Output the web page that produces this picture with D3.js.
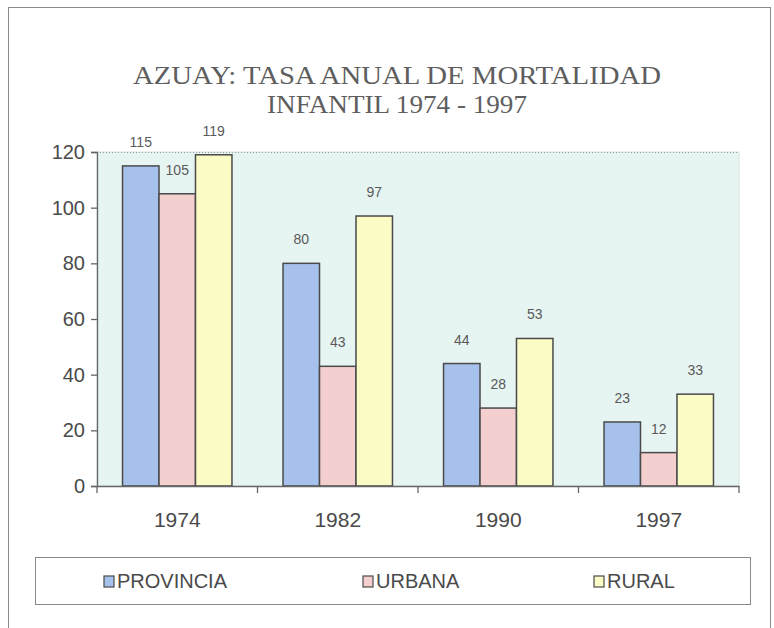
<!DOCTYPE html>
<html>
<head>
<meta charset="utf-8">
<script src="https://cdn.jsdelivr.net/npm/d3@7"></script>
<style>
  html, body { margin: 0; padding: 0; background: #fff; }
  svg { display: block; }
</style>
</head>
<body>
<svg id="chart" width="774" height="628"></svg>
<script>
/* global d3 */

// data
const years = ['1974', '1982', '1990', '1997'];
const seriesNames = ['PROVINCIA', 'URBANA', 'RURAL'];
const provincia = [115, 80, 44, 23];
const urbana = [105, 43, 28, 12];
const rural = [119, 97, 53, 33];
const yTicks = [0, 20, 40, 60, 80, 100, 120];
const titleLines = ['AZUAY: TASA ANUAL DE MORTALIDAD', 'INFANTIL 1974 - 1997'];

const fills = ['#a6c1ec', '#f3cfd0', '#fbfbc6'];
const values = [provincia, urbana, rural];

const svg = d3.select('#chart');

// outer chart frame
svg.append('rect')
    .attr('x', 8.5).attr('y', 7.5)
    .attr('width', 762).attr('height', 640)
    .attr('fill', '#fff')
    .attr('stroke', '#8a8a8a')
    .attr('stroke-width', 1);

// title
const titleY = [84, 113];
const titleW = [528, 260];
svg.selectAll('.title')
    .data(titleLines)
    .enter().append('text')
    .attr('class', 'title')
    .attr('x', (d, i) => 397 - titleW[i] / 2)
    .attr('y', (d, i) => titleY[i])
    .attr('textLength', (d, i) => titleW[i])
    .attr('lengthAdjust', 'spacingAndGlyphs')
    .style('font-family', '"Liberation Serif", "DejaVu Serif", serif')
    .style('font-size', '26px')
    .style('fill', '#5e5e5e')
    .text(d => d);

const plotL = 97, plotR = 739, plotT = 152, plotB = 486;

const x0 = d3.scaleBand().domain(years).range([plotL, plotR]).padding(0);
const x1 = d3.scaleBand().domain(seriesNames).range([0, x0.bandwidth()])
    .paddingInner(0).paddingOuter(0.7);
const y = d3.scaleLinear().domain([0, 120]).range([plotB, plotT]);

// plot area
svg.append('rect')
    .attr('x', plotL).attr('y', plotT)
    .attr('width', plotR - plotL).attr('height', plotB - plotT)
    .attr('fill', '#e6f4f2')
    .attr('stroke', '#d6e4e2')
    .attr('stroke-width', 1);

svg.append('line')
    .attr('x1', plotL).attr('x2', plotR)
    .attr('y1', y(120) + 0.5).attr('y2', y(120) + 0.5)
    .attr('stroke', '#9a9a9a')
    .attr('stroke-dasharray', '1,2');

// bars
const groups = svg.selectAll('.year')
    .data(years)
    .enter().append('g')
    .attr('class', 'year')
    .attr('transform', d => 'translate(' + x0(d) + ',0)');

groups.selectAll('rect')
    .data((d, i) => seriesNames.map((s, k) => ({ s: s, k: k, v: values[k][i] })))
    .enter().append('rect')
    .attr('x', d => x1(d.s))
    .attr('y', d => y(d.v))
    .attr('width', x1.bandwidth())
    .attr('height', d => y(0) - y(d.v))
    .attr('fill', d => fills[d.k])
    .attr('stroke', '#4a4a4a')
    .attr('stroke-width', 1.5);

groups.selectAll('.lbl')
    .data((d, i) => seriesNames.map((s, k) => ({ s: s, k: k, v: values[k][i] })))
    .enter().append('text')
    .attr('class', 'lbl')
    .attr('x', d => x1(d.s) + x1.bandwidth() / 2)
    .attr('y', d => y(d.v) - 19)
    .attr('text-anchor', 'middle')
    .style('font-family', '"Liberation Sans", Arial, sans-serif')
    .style('font-size', '14px')
    .style('fill', '#5a5a5a')
    .text(d => d.v);

// y axis
const yAxis = svg.append('g')
    .attr('transform', 'translate(' + plotL + ',0)')
    .call(d3.axisLeft(y).tickValues(yTicks).tickSize(6).tickPadding(6));
yAxis.select('.domain').attr('stroke', '#666').attr('stroke-width', 1.3);
yAxis.selectAll('.tick line').attr('stroke', '#666').attr('stroke-width', 1.3);
yAxis.selectAll('.tick text')
    .style('font-family', '"Liberation Sans", Arial, sans-serif')
    .style('font-size', '20px')
    .style('fill', '#4a4a4a');

// x axis with ticks at category boundaries
const xAxis = svg.append('g')
    .attr('transform', 'translate(0,' + plotB + ')')
    .call(d3.axisBottom(x0).tickSize(0).tickPadding(26));
xAxis.select('.domain').attr('stroke', '#666').attr('stroke-width', 1.3);
xAxis.selectAll('.tick text')
    .style('font-family', '"Liberation Sans", Arial, sans-serif')
    .style('font-size', '21px')
    .style('fill', '#4a4a4a');
xAxis.selectAll('.bound')
    .data(years.map(d => x0(d)).concat([plotR]))
    .enter().append('line')
    .attr('class', 'bound')
    .attr('x1', d => d).attr('x2', d => d)
    .attr('y1', 0).attr('y2', 7)
    .attr('stroke', '#666')
    .attr('stroke-width', 1.3);

// legend
svg.append('rect')
    .attr('x', 35.5).attr('y', 557.5)
    .attr('width', 715).attr('height', 47)
    .attr('fill', '#fff')
    .attr('stroke', '#8a8a8a')
    .attr('stroke-width', 1);

const legendX = [104, 363, 594];
const legend = svg.selectAll('.leg')
    .data(seriesNames)
    .enter().append('g')
    .attr('class', 'leg')
    .attr('transform', (d, i) => 'translate(' + legendX[i] + ',581)');

legend.append('rect')
    .attr('x', 0).attr('y', -5)
    .attr('width', 10).attr('height', 11)
    .attr('fill', (d, i) => fills[i])
    .attr('stroke', '#4a4a4a')
    .attr('stroke-width', 1.2);

legend.append('text')
    .attr('x', 13).attr('y', 7)
    .style('font-family', '"Liberation Sans", Arial, sans-serif')
    .style('font-size', '20px')
    .style('fill', '#4a4a4a')
    .text(d => d);
</script>
</body>
</html>
